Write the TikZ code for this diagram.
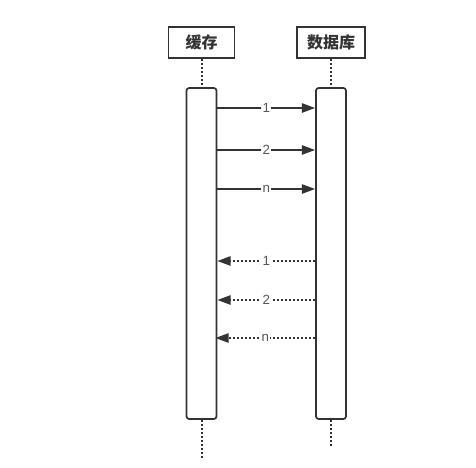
\documentclass[tikz,border=0pt]{standalone}
\usepackage{fontspec}
\setmainfont{Liberation Sans}
\newfontfamily\cjk{Noto Sans CJK SC}
\usetikzlibrary{arrows.meta}
\definecolor{ink}{HTML}{333333}
\definecolor{labelgray}{HTML}{555555}

\begin{document}
\begin{tikzpicture}[x=0.75pt,y=-0.75pt,color=ink,line width=1.3pt,>={Triangle[length=10pt,width=7pt]},
        actor/.style={rectangle,draw,minimum height=23.25pt,font=\cjk\bfseries\large},
        activation/.style={rectangle,draw,rounded corners=2pt,minimum width=22.5pt,minimum height=248.25pt},
        lifeline/.style={line width=1.5pt,dash pattern=on 1.5pt off 1.5pt},
        reply/.style={line width=1.3pt,dash pattern=on 1.5pt off 1.5pt},
        msg/.style={fill=white,inner sep=1pt,text=labelgray,font=\normalsize}]
        \useasboundingbox (0,0) rectangle (476,468);

        \node at (201.5,42.5) [actor,minimum width=49.5pt] (cache) {缓存};
        \node at (331,42.5) [actor,minimum width=51pt] (db) {数据库};

        \node at (201.5,253.5) [activation] (cache_act) {};
        \node at (331,253.5) [activation] (db_act) {};

        \coordinate (cache_end) at (201.5,458);
        \coordinate (db_end) at (331,447);

        % request / reply heights
        \coordinate (req1) at (0,108);
        \coordinate (req2) at (0,150);
        \coordinate (reqn) at (0,189);
        \coordinate (rep1) at (0,261);
        \coordinate (rep2) at (0,300);
        \coordinate (repn) at (0,338);

        \draw[lifeline] (cache) -- (cache_act)
                        (db) -- (db_act)
                        (cache_act) -- (cache_end)
                        (db_act) -- (db_end);

        \draw[->] (cache_act.east |- req1) -- node[msg]{1} (db_act.west |- req1);
        \draw[->] (cache_act.east |- req2) -- node[msg]{2} (db_act.west |- req2);
        \draw[->] (cache_act.east |- reqn) -- node[msg]{n} (db_act.west |- reqn);

        \draw[reply,->] (db_act.west |- rep1) -- node[msg]{1} (cache_act.east |- rep1);
        \draw[reply,->] (db_act.west |- rep2) -- node[msg]{2} (cache_act.east |- rep2);
        \draw[reply,->] (db_act.west |- repn) -- node[msg]{n} ([xshift=-1.5pt]cache_act.east |- repn);

    \end{tikzpicture}
\end{document}
